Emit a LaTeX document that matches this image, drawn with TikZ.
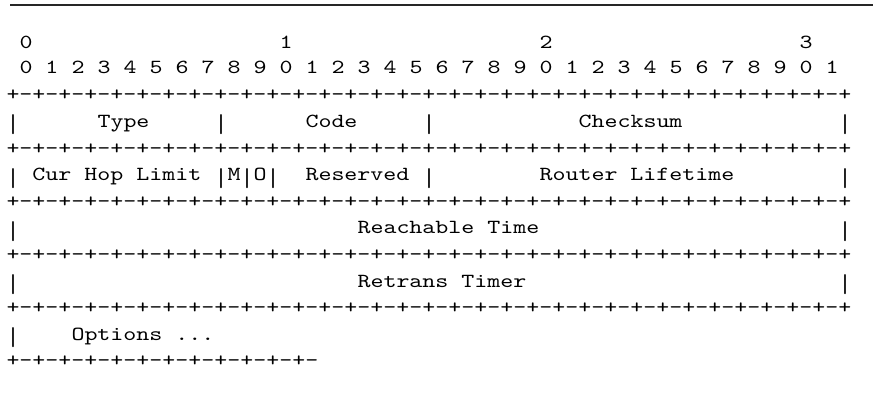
\documentclass[tikz,border=0pt]{standalone}
\usepackage{fontspec}
\usepackage{graphicx}
\usepackage{tikz}
\newfontfamily\pktfont{lmmono10-regular.otf}[FakeStretch=1.238]
\newcommand\gap{\hspace*{6.5pt}}
\newcommand\cx[1]{6.5+13*#1}
\newcommand\tallbar{\raisebox{-2.65pt}{\scalebox{1}[1.29]{|}}}
\newcommand\wall{\makebox[2pt]{\tallbar}}
\newcommand\cellwall{\makebox[6.5pt]{\tallbar}}

\begin{document}
\begin{tikzpicture}[
    x=0.5pt, y=-0.5pt,
    cell/.style={anchor=base west, inner sep=0pt, outer sep=0pt, font=\pktfont\fontsize{10}{12}\selectfont},
    midcell/.style={cell, anchor=base},
    rule/.style={line width=#1, black!85},
  ]
  \useasboundingbox (0,0) rectangle (873,399);

  % page rule
  \coordinate (ruleL) at (10,5);
  \coordinate (ruleR) at (873,5);
  \coordinate (heavyL) at (762,5);
  \coordinate (heavyR) at (866,5);
  \draw[rule=0.6pt] (ruleL) -- (ruleR);
  \draw[rule=1.1pt] (heavyL) -- (heavyR);

  % bit numbers
  \foreach \t in {0,...,3}
    \node[cell] (ten\t) at ({\cx{(20*\t+1)}},49) {\t};
  \foreach \b in {0,...,31} {
    \pgfmathtruncatemacro\d{mod(\b,10)}
    \node[cell] (bit\b) at ({\cx{(2*\b+1)}},74) {\d};
  }

  % row borders
  \foreach \r [count=\i] in {101,154.2,207.4,260.6,313.8}
    \node[cell] (sep\i) at ({\cx{0}},\r) {+-+-+-+-+-+-+-+-+-+-+-+-+-+-+-+-+-+-+-+-+-+-+-+-+-+-+-+-+-+-+-+-+};
  \node[cell] (sep6) at ({\cx{0}},367) {+-+-+-+-+-+-+-+-+-+-+-+-};

  % field walls
  \foreach \c/\r [count=\i] in {0/127.6,16/127.6,32/127.6,64/127.6,
      0/180.8,32/180.8,64/180.8,
      0/234,64/234,0/287.2,64/287.2,0/340.4}
    \node[midcell] (bar\i) at ({\cx{\c}+6.5},\r) {\wall};

  % fields
  \node[cell] (type) at ({\cx{7}},127.6) {Type};
  \node[cell] (code) at ({\cx{23}},127.6) {Code};
  \node[cell] (checksum) at ({\cx{44}},127.6) {Checksum};
  \node[cell] (hoplimit) at ({\cx{2}},180.8) {Cur\gap Hop\gap Limit};
  \node[cell] (flags) at ({\cx{16}},180.8) {\cellwall M\cellwall O\cellwall};
  \node[cell] (reserved) at ({\cx{23}},180.8) {Reserved};
  \node[cell] (lifetime) at ({\cx{41}},180.8) {Router\gap Lifetime};
  \node[cell] (reachable) at ({\cx{27}},234) {Reachable\gap Time};
  \node[cell] (retrans) at ({\cx{27}},287.2) {Retrans\gap Timer};
  \node[cell] (options) at ({\cx{5}},340.4) {Options\gap ...};
\end{tikzpicture}
\end{document}
